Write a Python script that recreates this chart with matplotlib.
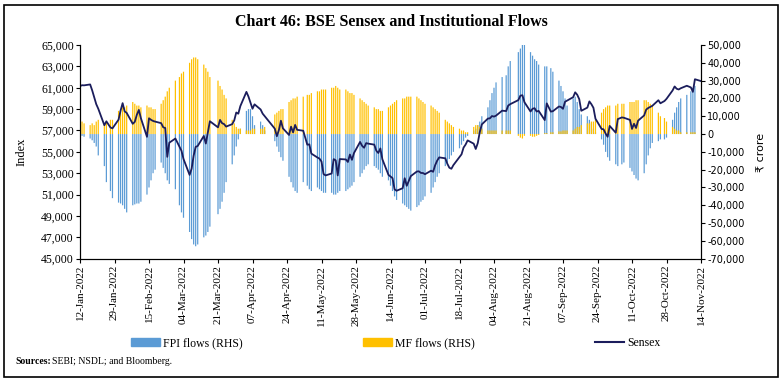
import numpy as np
import pandas as pd
import matplotlib
matplotlib.use("Agg")
import matplotlib.pyplot as plt
import matplotlib.dates as mdates
from matplotlib.lines import Line2D
from matplotlib.patches import Patch, Rectangle
from matplotlib.ticker import FuncFormatter

# trading days (BSE holidays removed)
holidays = ["2022-01-26", "2022-03-01", "2022-03-18", "2022-04-14", "2022-04-15",
            "2022-05-03", "2022-08-09", "2022-08-15", "2022-08-31", "2022-10-05",
            "2022-10-26", "2022-11-08"]
dates = pd.bdate_range("2022-01-12", "2022-11-14").drop(pd.to_datetime(holidays))

# one row per week
sensex = [
    61150, 61235, 61223,
    61309, 60755, 60099, 59465, 59037,
    57492, 57858, 57277, 57200,
    58014, 58862, 59558, 58788, 58645,
    57621, 57809, 58466, 58926, 58153,
    56406, 58142, 57997, 57892, 57833,
    57684, 57301, 57232, 54530, 55859,
    56247, 55469, 55103, 54334,
    52843, 53424, 54647, 55464, 55550,
    56486, 55777, 56817, 57864,
    57292, 57990, 57685, 57596, 57362,
    57593, 57944, 58684, 58569, 59277,
    60612, 60176, 59610, 59035, 59447,
    58965, 58576, 58339,
    57167, 56463, 57038, 57912, 57197,
    56580, 57357, 56819, 57521, 57061,
    56976, 55669, 55702, 54836,
    54471, 54365, 54089, 52930, 52794,
    52974, 54319, 54209, 52792, 54326,
    54289, 54053, 54749, 54253, 54885,
    55926, 55566, 55382, 55818, 55770,
    55675, 55107, 54893, 55320, 54303,
    52847, 52694, 52541, 51496, 51360,
    51598, 52532, 51823, 52266, 52728,
    53161, 53177, 53027, 53019, 52908,
    53235, 53134, 53751, 54178, 54482,
    54396, 53887, 53514, 53417, 53761,
    54522, 54768, 55398, 55682, 56072,
    55766, 55268, 55817, 56858, 57570,
    58116, 58137, 58351, 58299, 58388,
    58854, 58817, 59333, 59463,
    59843, 60260, 60298, 59646,
    58774, 59031, 59085, 58775, 58834,
    57973, 59537, 58767, 58803,
    59246, 59197, 59029, 59689, 59794,
    60115, 60571, 60347, 59934, 58841,
    59141, 59720, 59457, 59120, 58099,
    57146, 57108, 56710, 56410, 57427,
    56789, 58065, 58222, 58191,
    57991, 57147, 57626, 57235, 57920,
    58411, 58960, 59107, 59203, 59307,
    59831, 59544, 59757, 59960,
    60747, 61121, 60906, 60836, 60950,
    61185, 61033, 60614, 61795,
    61624,
]

fpi = [
    -500, -1000, -1500,
    -2500, -3500, -5000, -7000, -12000,
    -18000, -27000, -32000, -36000,
    -38500, -39000, -40000, -42000, -44000,
    -40000, -39500, -39000, -39000, -38000,
    -34000, -30000, -26000, -22000, -20000,
    -16000, -19000, -22000, -26000, -28000,
    -31000, -40000, -44000, -47000,
    -55000, -59000, -62000, -63000, -62000,
    -58000, -57000, -55000, -52000,
    -45000, -42000, -38000, -33000, -27000,
    -17000, -12000, -7000, -3000, 3000,
    13000, 14000, 14000, 10000, 5000,
    7000, 5000, 2000,
    -4000, -7000, -10000, -13000, -15000,
    -24000, -27000, -30000, -32000, -33000,
    -27000, -29000, -31000, -32000,
    -30000, -31000, -32000, -33000, -33000,
    -33000, -34000, -34000, -33000, -32000,
    -32000, -31000, -30000, -29000, -27000,
    -24000, -22000, -20000, -18000, -17000,
    -18000, -19000, -20000, -22000, -24000,
    -26000, -29000, -32000, -35000, -37000,
    -39000, -40000, -41000, -42000, -43000,
    -41000, -40000, -38000, -37000, -35000,
    -33000, -30000, -27000, -24000, -22000,
    -18000, -16000, -14000, -12000, -10000,
    -8000, -6000, -4000, -2000, -1000,
    2000, 3000, 5000, 7000, 10000,
    15000, 19000, 23000, 26000, 29000,
    32000, 33000, 38000, 41000,
    46000, 48000, 50000, 50000,
    46000, 44000, 42000, 41000, 39000,
    38000, 38000, 37000, 35000,
    30000, 27000, 24000, 20000, 16000,
    20000, 21000, 18000, 14000, 11000,
    10000, 8000, 6000, 3000, 1000,
    -3000, -6000, -10000, -13000, -15000,
    -17000, -18000, -17000, -16000,
    -19000, -21000, -23000, -25000, -26000,
    -22000, -17000, -12000, -8000, -5000,
    -4000, -3000, -3000, -2000,
    8000, 12000, 15000, 18000, 20000,
    22000, 24000, 26000, 27000,
    np.nan,
]

mf = [
    6000, 7000, 6000,
    5000, 6000, 5000, 7000, 8000,
    6000, 7000, 8000, 8000,
    13000, 14000, 15000, 15000, 16000,
    18000, 17000, 16000, 16000, 15000,
    16000, 15000, 15000, 14000, 14000,
    17000, 19000, 21000, 24000, 26000,
    30000, 32000, 34000, 35000,
    40000, 42000, 43000, 43000, 42000,
    39000, 37000, 35000, 32000,
    30000, 27000, 25000, 22000, 20000,
    8000, 6000, 4000, 3000, 3000,
    2000, 2000, 2000, 3000, 3000,
    3000, 3000, 4000,
    11000, 12000, 13000, 14000, 14000,
    18000, 19000, 20000, 20000, 21000,
    21000, 22000, 22000, 23000,
    24000, 24000, 25000, 25000, 25000,
    26000, 26000, 27000, 26000, 25000,
    25000, 24000, 23000, 23000, 22000,
    20000, 19000, 18000, 17000, 16000,
    15000, 14000, 14000, 13000, 13000,
    15000, 16000, 17000, 18000, 19000,
    20000, 20000, 21000, 21000, 21000,
    21000, 20000, 19000, 18000, 17000,
    16000, 15000, 14000, 13000, 12000,
    8000, 7000, 6000, 5000, 4000,
    3000, 2000, 2000, 1000, 1000,
    4000, 5000, 5000, 4000, 3000,
    2000, 2000, 2000, 2000, 2000,
    2000, 2000, 2000, 2000,
    -1000, -2000, -2500, -1000,
    -1000, -1500, -1500, -1000, -500,
    500, 500, 1000, 1000,
    1500, 1500, 2000, 2000, 2000,
    2000, 3000, 4000, 4000, 5000,
    6000, 6000, 7000, 7000, 8000,
    12000, 14000, 15000, 16000, 16000,
    16000, 17000, 17000, 17000,
    18000, 18000, 18000, 19000, 19000,
    19000, 19000, 18000, 17000, 16000,
    12000, 10000, 9000, 7000,
    4000, 3000, 2000, 2000, 1000,
    1000, 1000, 1000, 1000,
    np.nan,
]

xticks = pd.date_range("2022-01-12", "2022-11-14", freq="17D")
left_ticks = np.arange(45000, 65001, 2000)
right_ticks = np.arange(-70000, 50001, 10000)

BLUE = "#5B9BD5"
GOLD = "#FFC000"
NAVY = "#1B1D5C"
serif = "Liberation Serif"

fig = plt.figure(figsize=(7.82, 3.82), dpi=100)
ax = fig.add_axes([80 / 782, 1 - 258.7 / 382, 621 / 782, 213.7 / 382])
ax2 = ax.twinx()
ax.set_zorder(ax2.get_zorder() + 1)
ax.patch.set_visible(False)

# thin daily columns, MF drawn over FPI
ax2.bar(dates, fpi, width=0.6, color=BLUE, linewidth=0, snap=False)
ax2.bar(dates, mf, width=0.6, color=GOLD, linewidth=0, snap=False)
ax.plot(dates, sensex, color=NAVY, lw=1.3)

ax.set_xlim(pd.Timestamp("2022-01-12"), pd.Timestamp("2022-11-14"))
ax.set_ylim(45000, 65000)
ax2.set_ylim(-70000, 50000)
ax.set_yticks(left_ticks)
ax2.set_yticks(right_ticks)
comma = FuncFormatter(lambda v, p: f"{v:,.0f}")
ax.yaxis.set_major_formatter(comma)
ax2.yaxis.set_major_formatter(comma)

ax.set_xticks(xticks)
ax.xaxis.set_major_formatter(mdates.DateFormatter("%d-%b-%Y"))
for lab in ax.get_xticklabels():
    lab.set_rotation(90)
    lab.set_family(serif)
    lab.set_fontsize(8)
for lab in ax.get_yticklabels():
    lab.set_family(serif)
    lab.set_fontsize(8.5)
for lab in ax2.get_yticklabels():
    lab.set_family("DejaVu Sans")
    lab.set_fontsize(7)

for a in (ax, ax2):
    a.spines["top"].set_visible(False)
    for s in ("left", "right", "bottom"):
        a.spines[s].set_color("black")
        a.spines[s].set_linewidth(0.8)
    a.tick_params(direction="out", length=3, width=0.8, colors="black", pad=1.5)

fig.text(0.5, 1 - 22 / 382, "Chart 46: BSE Sensex and Institutional Flows",
         ha="center", va="center", fontsize=11.5, fontweight="bold", family=serif)
fig.text(22 / 782, 1 - 152 / 382, "Index", rotation=90, ha="center", va="center",
         fontsize=9, family=serif)
fig.text(762 / 782, 1 - 152 / 382, "₹ crore", rotation=90, ha="center", va="center",
         fontsize=8, family=["DejaVu Sans", "Noto Sans"])

handles = [Patch(color=BLUE), Patch(color=GOLD), Line2D([], [], color=NAVY, lw=1.5)]
fig.legend(handles, ["FPI flows (RHS)", "MF flows (RHS)", "Sensex"], loc="center",
           bbox_to_anchor=(396 / 782, 1 - 343 / 382), ncol=3, frameon=False,
           columnspacing=10.2, handlelength=2.4, handletextpad=0.3,
           prop={"family": serif, "size": 8.5})

fig.text(15 / 782, 1 - 361 / 382, "Sources:", fontsize=7, fontweight="bold",
         family=serif, va="center")
fig.text(52 / 782, 1 - 361 / 382, "SEBI; NSDL; and Bloomberg.", fontsize=7,
         family=serif, va="center")

fig.patches.append(Rectangle((4 / 782, 5 / 382), 774 / 782, 372 / 382,
                             transform=fig.transFigure, fill=False,
                             edgecolor="black", lw=1.2))

fig.savefig("out.png", dpi=100)
